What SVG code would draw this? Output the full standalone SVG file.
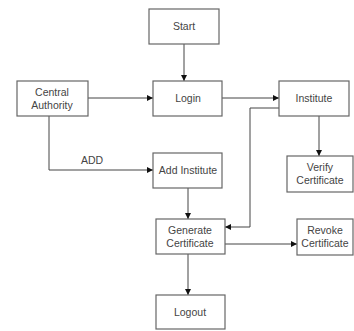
<svg xmlns="http://www.w3.org/2000/svg" width="354" height="331" viewBox="0 0 354 331">
<defs>
<marker id="arr" viewBox="0 0 10 10" refX="10" refY="5" markerWidth="6" markerHeight="6" markerUnits="userSpaceOnUse" orient="auto">
<path d="M0,0 L10,5 L0,10 z" fill="#111"/>
</marker>
<style>
.box{fill:#fff;stroke:#666;stroke-width:1.2}
.t{font-family:"Liberation Sans",Arial,sans-serif;font-size:10.5px;fill:#444;text-anchor:middle}
.c{fill:none;stroke:#444;stroke-width:1;marker-end:url(#arr)}
</style>
</defs>
<rect width="354" height="331" fill="#fff"/>
<g id="connectors">
<path class="c" d="M184,44 V81"/>
<path class="c" d="M88,98 H153"/>
<path class="c" d="M222,98 H279"/>
<path class="c" d="M319,116 V156"/>
<path class="c" d="M49,116 V170 H153"/>
<path class="c" d="M279,108 H250 V227 H225"/>
<path class="c" d="M188,188 V219"/>
<path class="c" d="M225,244 H297"/>
<path class="c" d="M188,254 V295"/>
<text class="t" x="92" y="164">ADD</text>
</g>
<g id="start"><rect class="box" x="149" y="9" width="70" height="35"/><text class="t" x="184" y="30">Start</text></g>
<g id="login"><rect class="box" x="153" y="81" width="69" height="35"/><text class="t" x="188" y="102">Login</text></g>
<g id="central-authority"><rect class="box" x="17" y="81" width="71" height="35"/><text class="t" x="52" y="96">Central</text><text class="t" x="52" y="109">Authority</text></g>
<g id="institute"><rect class="box" x="279" y="81" width="70" height="35"/><text class="t" x="314" y="102">Institute</text></g>
<g id="verify-certificate"><rect class="box" x="287" y="156" width="66" height="36"/><text class="t" x="320" y="171">Verify</text><text class="t" x="320" y="184">Certificate</text></g>
<g id="add-institute"><rect class="box" x="153" y="153" width="69" height="35"/><text class="t" x="188" y="174">Add Institute</text></g>
<g id="generate-certificate"><rect class="box" x="156" y="219" width="69" height="35"/><text class="t" x="190" y="234">Generate</text><text class="t" x="190" y="247">Certificate</text></g>
<g id="revoke-certificate"><rect class="box" x="297" y="219" width="56" height="36"/><text class="t" x="325" y="234">Revoke</text><text class="t" x="325" y="247">Certificate</text></g>
<g id="logout"><rect class="box" x="156" y="295" width="69" height="34"/><text class="t" x="190" y="316">Logout</text></g>
</svg>
